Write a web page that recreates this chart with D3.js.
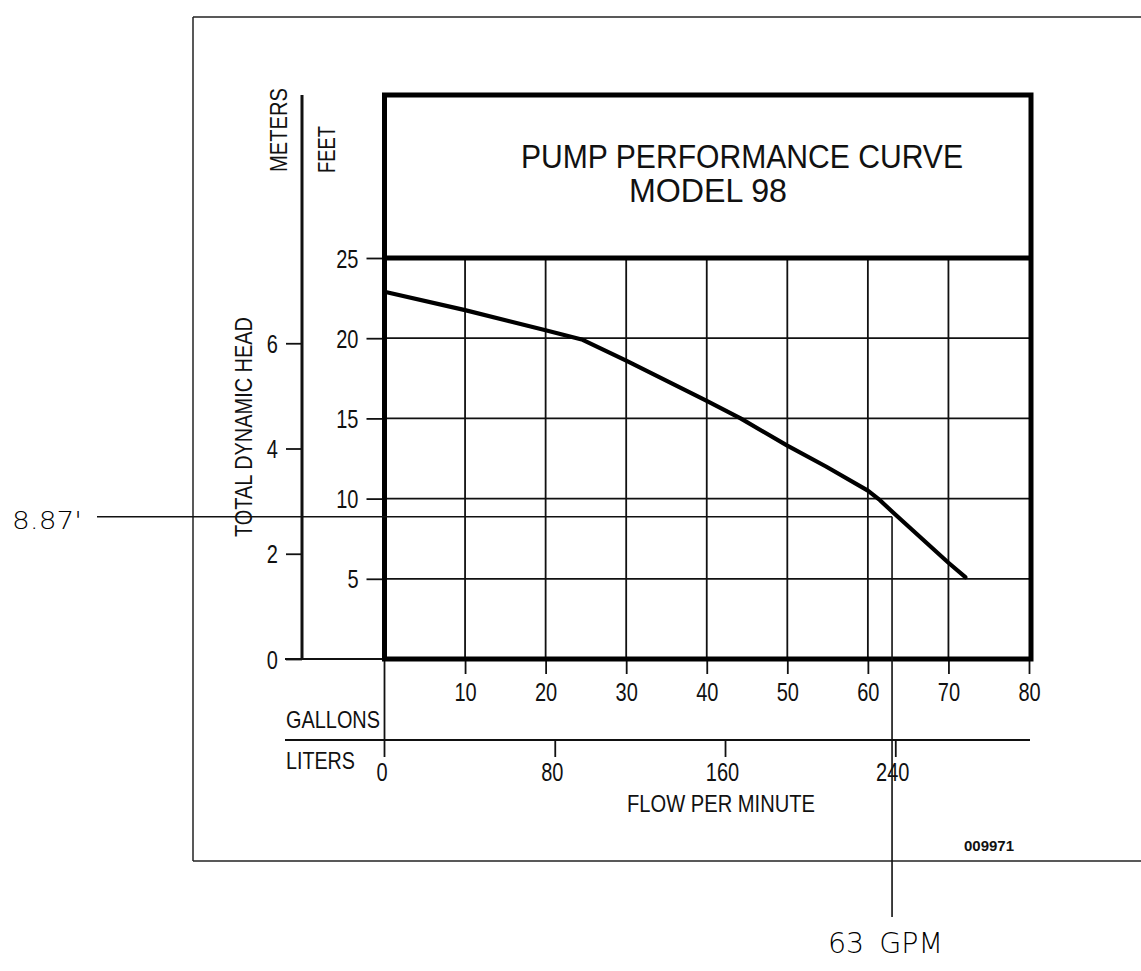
<!DOCTYPE html>
<html>
<head>
<meta charset="utf-8">
<script src="https://cdn.jsdelivr.net/npm/d3@7"></script>
<style>
  html, body { margin: 0; padding: 0; background: #fff; }
  svg { display: block; }
</style>
</head>
<body>
<script>
// ---------- DATA ----------
const flowGpm = [0, 10, 20, 24.6, 30, 40, 44.2, 50, 54.8, 60, 61.5, 63.2, 70, 72.1];
const headFt  = [22.9, 21.75, 20.5, 19.9, 18.6, 16.1, 15.0, 13.3, 12.0, 10.5, 9.9, 9.1, 6.0, 5.1];
const gallonTicks = [10, 20, 30, 40, 50, 60, 70, 80];
const literTicks = [0, 80, 160, 240];
const feetTicks = [5, 10, 15, 20, 25];
const meterTicks = [0, 2, 4, 6];
const operatingFlow = [63];
const operatingHead = [8.87];
const titleLines = ["PUMP PERFORMANCE CURVE", "MODEL 98"];

// ---------- SETUP ----------
const W = 1141, H = 971;
const FONT = "'Liberation Sans', Arial, Helvetica, sans-serif";
const HAND = "'DejaVu Sans', sans-serif";
const svg = d3.select("body").append("svg").attr("width", W).attr("height", H);
svg.append("rect").attr("width", W).attr("height", H).attr("fill", "#fff");

const x = d3.scaleLinear().domain([0, 80]).range([384.5, 1029]);
const xL = d3.scaleLinear().domain([0, 80 * 3.78541]).range([384.5, 1029]);
const y = d3.scaleLinear().domain([0, 25]).range([659, 258]);
const yM = d3.scaleLinear().domain([0, 25 / 3.28084]).range([659, 258]);

const ink = "#111";

function condense(sel, f) {
  sel.each(function () {
    const w = this.getComputedTextLength();
    d3.select(this).attr("textLength", w * f).attr("lengthAdjust", "spacingAndGlyphs");
  });
}

// ---------- OUTER FRAME ----------
const frame = svg.append("g").attr("stroke", "#222").attr("stroke-width", 1.5).attr("fill", "none");
frame.append("line").attr("x1", 193).attr("x2", 1141).attr("y1", 17).attr("y2", 17);
frame.append("line").attr("x1", 193).attr("x2", 1141).attr("y1", 861).attr("y2", 861);
frame.append("line").attr("x1", 193).attr("x2", 193).attr("y1", 17).attr("y2", 861);

// ---------- GRID ----------
const grid = svg.append("g").attr("stroke", ink).attr("stroke-width", 1.8);
grid.selectAll(".hg").data(feetTicks.filter(d => d > 0 && d < 25)).join("line")
  .attr("x1", x(0)).attr("x2", x(80)).attr("y1", d => y(d)).attr("y2", d => y(d));
grid.selectAll(".vg").data(gallonTicks.filter(d => d < 80)).join("line")
  .attr("x1", d => x(d)).attr("x2", d => x(d)).attr("y1", y(25)).attr("y2", y(0));

// ---------- FEET AXIS ----------
const feetAxis = svg.append("g").attr("transform", `translate(${x(0)},0)`)
  .call(d3.axisLeft(y).tickValues(feetTicks).tickSize(18).tickPadding(8));
feetAxis.select(".domain").remove();
feetAxis.selectAll(".tick line").attr("stroke", ink).attr("stroke-width", 1.8);
feetAxis.selectAll(".tick text").attr("font-family", FONT).attr("font-size", 25).attr("fill", ink).attr("dy", "0.36em");

// ---------- METERS AXIS ----------
const meterAxis = svg.append("g").attr("transform", "translate(302,0)")
  .call(d3.axisLeft(yM).tickValues(meterTicks).tickSize(16).tickPadding(8));
meterAxis.select(".domain").remove();
meterAxis.selectAll(".tick line").attr("stroke", ink).attr("stroke-width", 1.8);
meterAxis.selectAll(".tick text").attr("font-family", FONT).attr("font-size", 25).attr("fill", ink).attr("dy", "0.36em");
svg.append("line").attr("x1", 302).attr("x2", 302).attr("y1", 95).attr("y2", y(0))
  .attr("stroke", ink).attr("stroke-width", 3);
svg.append("line").attr("x1", 285).attr("x2", x(0)).attr("y1", y(0)).attr("y2", y(0))
  .attr("stroke", ink).attr("stroke-width", 1.8);

// ---------- GALLONS AXIS ----------
const galAxis = svg.append("g").attr("transform", `translate(0,${y(0)})`)
  .call(d3.axisBottom(x).tickValues(gallonTicks).tickSize(15).tickPadding(9));
galAxis.select(".domain").remove();
galAxis.selectAll(".tick line").attr("stroke", ink).attr("stroke-width", 1.8);
galAxis.selectAll(".tick text").attr("font-family", FONT).attr("font-size", 25).attr("fill", ink);

// left border extension down to liters axis
svg.append("line").attr("x1", x(0)).attr("x2", x(0)).attr("y1", y(0)).attr("y2", 757)
  .attr("stroke", ink).attr("stroke-width", 1.8);

// ---------- LITERS AXIS ----------
svg.append("line").attr("x1", 285).attr("x2", x(80) + 1).attr("y1", 740).attr("y2", 740)
  .attr("stroke", ink).attr("stroke-width", 1.8);
const litAxis = svg.append("g").attr("transform", "translate(0,740)")
  .call(d3.axisBottom(xL).tickValues(literTicks).tickSize(17).tickPadding(6));
litAxis.select(".domain").remove();
litAxis.selectAll(".tick line").attr("stroke", ink).attr("stroke-width", 1.8)
  .attr("display", d => d === 0 ? "none" : null);
litAxis.selectAll(".tick text").attr("font-family", FONT).attr("font-size", 25).attr("fill", ink).attr("x", -3);

// ---------- AXIS TEXT LABELS ----------
svg.append("text").attr("x", 286).attr("y", 728).text("GALLONS")
  .attr("font-family", FONT).attr("font-size", 24).attr("fill", ink)
  .attr("textLength", 94).attr("lengthAdjust", "spacingAndGlyphs");
svg.append("text").attr("x", 286).attr("y", 769).text("LITERS")
  .attr("font-family", FONT).attr("font-size", 24).attr("fill", ink)
  .attr("textLength", 69).attr("lengthAdjust", "spacingAndGlyphs");
svg.append("text").attr("x", 627).attr("y", 812).text("FLOW PER MINUTE")
  .attr("font-family", FONT).attr("font-size", 24).attr("fill", ink)
  .attr("textLength", 188).attr("lengthAdjust", "spacingAndGlyphs");
svg.append("text").attr("transform", "translate(287,172) rotate(-90)").text("METERS")
  .attr("font-family", FONT).attr("font-size", 24).attr("fill", ink)
  .attr("textLength", 84).attr("lengthAdjust", "spacingAndGlyphs");
svg.append("text").attr("transform", "translate(335,173) rotate(-90)").text("FEET")
  .attr("font-family", FONT).attr("font-size", 24).attr("fill", ink)
  .attr("textLength", 47).attr("lengthAdjust", "spacingAndGlyphs");
svg.append("text").attr("transform", "translate(252,317) rotate(-90)").attr("text-anchor", "end")
  .text("TOTAL DYNAMIC HEAD")
  .attr("font-family", FONT).attr("font-size", 24).attr("fill", ink)
  .attr("textLength", 220).attr("lengthAdjust", "spacingAndGlyphs");
svg.append("text").attr("x", 964).attr("y", 851).text("009971")
  .attr("font-family", FONT).attr("font-size", 14).attr("font-weight", "bold").attr("fill", ink)
  .attr("textLength", 50).attr("lengthAdjust", "spacingAndGlyphs");

// condense tick numbers
condense(svg.selectAll(".tick text"), 0.8);

// ---------- TITLE ----------
svg.append("text").attr("x", 521).attr("y", 168).text(titleLines[0])
  .attr("font-family", FONT).attr("font-size", 33).attr("fill", ink)
  .attr("textLength", 442).attr("lengthAdjust", "spacingAndGlyphs");
svg.append("text").attr("x", 629).attr("y", 202).text(titleLines[1])
  .attr("font-family", FONT).attr("font-size", 33).attr("fill", ink)
  .attr("textLength", 158).attr("lengthAdjust", "spacingAndGlyphs");

// ---------- CURVE ----------
const curveData = flowGpm.map((g, i) => [g, headFt[i]]);
svg.append("path").datum(curveData)
  .attr("d", d3.line().x(d => x(d[0])).y(d => y(d[1])))
  .attr("fill", "none").attr("stroke", "#000").attr("stroke-width", 4.2)
  .attr("stroke-linejoin", "round").attr("stroke-linecap", "round");

// ---------- THICK BORDERS ----------
const thick = svg.append("g").attr("stroke", "#000").attr("stroke-width", 5).attr("fill", "none");
thick.append("rect").attr("x", x(0)).attr("y", 95).attr("width", x(80) + 2 - x(0)).attr("height", y(0) - 95);
thick.append("line").attr("x1", x(0)).attr("x2", x(80) + 2).attr("y1", y(25)).attr("y2", y(25));

// ---------- OPERATING POINT ANNOTATION ----------
const opX = x(operatingFlow[0]), opY = y(operatingHead[0]);
svg.append("line").attr("x1", 97).attr("x2", opX).attr("y1", opY).attr("y2", opY)
  .attr("stroke", ink).attr("stroke-width", 1.6);
svg.append("line").attr("x1", opX).attr("x2", opX).attr("y1", opY).attr("y2", 917)
  .attr("stroke", ink).attr("stroke-width", 1.6);
svg.append("text").attr("x", 12).attr("y", 529).text(operatingHead[0] + "'")
  .attr("font-family", HAND).attr("font-weight", 200).attr("font-size", 24).attr("fill", "#000")
  .attr("textLength", 70).attr("lengthAdjust", "spacingAndGlyphs");
svg.append("text").attr("x", 828).attr("y", 953).text(operatingFlow[0] + " GPM")
  .attr("font-family", HAND).attr("font-weight", 200).attr("font-size", 29).attr("fill", "#000")
  .attr("textLength", 115).attr("lengthAdjust", "spacingAndGlyphs")
  .attr("word-spacing", 6);
</script>
</body>
</html>
